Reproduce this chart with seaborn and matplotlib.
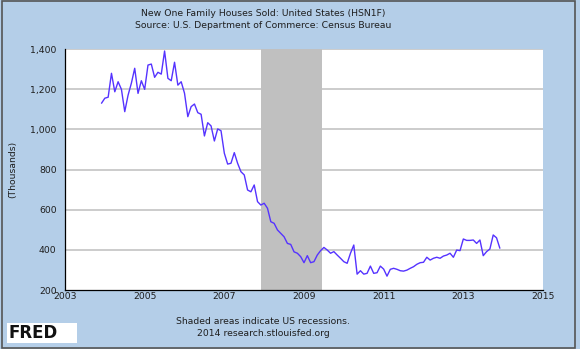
import numpy as np
import pandas as pd
import matplotlib
matplotlib.use("Agg")
import matplotlib.pyplot as plt
import seaborn as sns
from matplotlib.patches import Rectangle

# ---- data (thousands, monthly, Dec 2003 .. Dec 2013) ----
start_year, start_month = 2003, 12
sales = [
    1130, 1155, 1160, 1279, 1187, 1237, 1199, 1088, 1170, 1230, 1304, 1179,   # Dec03-Nov04
    1242, 1199, 1320, 1325, 1259, 1284, 1275, 1390, 1254, 1242, 1334, 1220,   # Dec04-Nov05
    1237, 1180, 1063, 1113, 1126, 1083, 1075, 967, 1033, 1017, 942, 1002,     # Dec05-Nov06
    993, 881, 827, 831, 884, 831, 789, 773, 698, 689, 723, 640,               # Dec06-Nov07
    623, 632, 607, 540, 532, 499, 482, 465, 432, 427, 390, 383,               # Dec07-Nov08
    366, 336, 371, 336, 341, 374, 396, 412, 399, 383, 391, 374,               # Dec08-Nov09
    358, 341, 333, 383, 424, 279, 296, 279, 283, 319, 283, 286,               # Dec09-Nov10
    319, 304, 269, 303, 308, 303, 296, 294, 299, 308, 316, 328,               # Dec10-Nov11
    336, 338, 363, 349, 358, 363, 358, 369, 374, 383, 363, 399,               # Dec11-Nov12
    396, 454, 447, 447, 449, 432, 449, 371, 391, 404, 474, 460,               # Dec12-Nov13
    408,                                                                      # Dec13
]
recession_start = 2007 + 11 / 12   # Dec 2007
recession_end = 2009 + 5.5 / 12    # Jun 2009

title_lines = ["New One Family Houses Sold: United States (HSN1F)",
               "Source: U.S. Department of Commerce: Census Bureau"]
y_label = "(Thousands)"
y_ticks = [200, 400, 600, 800, 1000, 1200, 1400]
x_ticks = [2003, 2005, 2007, 2009, 2011, 2013, 2015]
footer_lines = ["Shaded areas indicate US recessions.",
                "2014 research.stlouisfed.org"]

dates = pd.date_range(f"{start_year}-{start_month:02d}-01", periods=len(sales), freq="MS")
df = pd.DataFrame({
    "year": dates.year + (dates.month - 1) / 12.0,
    "sales": sales,
})

# ---- style ----
bg = "#B4CEE8"
fs = 6.7
txt = "#1e1e1e"
sns.set_style("white")
plt.rcParams["font.family"] = ["DejaVu Sans"]

fig = plt.figure(figsize=(5.8, 3.49), dpi=100, facecolor=bg)
ax = fig.add_axes([65 / 580, 1 - 290 / 349, (543 - 65) / 580, (290 - 49) / 349])
ax.set_facecolor("white")

ax.axvspan(recession_start, recession_end, color="#C0C0C0", lw=0, zorder=1)
for t in y_ticks[1:]:
    ax.axhline(t, color="#C8C8C8", lw=1.3, zorder=0.5)

sns.lineplot(data=df, x="year", y="sales", ax=ax, color="#5533FF", lw=1.0, zorder=3)

ax.set_xlim(2003, 2015)
ax.set_ylim(200, 1400)
ax.set_xticks(x_ticks)
ax.set_xticklabels([str(v) for v in x_ticks], fontsize=fs, color=txt)
ax.set_yticks(y_ticks)
ax.set_yticklabels([f"{v:,}" for v in y_ticks], fontsize=fs, color=txt)
ax.tick_params(axis="x", direction="in", length=4, width=0.8, pad=1.5, color="black")
ax.tick_params(axis="y", direction="out", length=4, width=0.8, pad=2, color="black")
ax.set_xlabel("")
ax.set_ylabel(y_label, fontsize=fs, color=txt)
ax.yaxis.set_label_coords(-0.1, 0.5)
for s in ["top", "right"]:
    ax.spines[s].set_visible(False)
for s in ["left", "bottom"]:
    ax.spines[s].set_color("black")
    ax.spines[s].set_linewidth(0.9)

# titles
fig.text(263 / 580, 1 - 13 / 349, title_lines[0], ha="center", va="center", fontsize=fs, color=txt)
fig.text(263 / 580, 1 - 25 / 349, title_lines[1], ha="center", va="center", fontsize=fs, color=txt)
# footer
fig.text(263 / 580, 1 - 322 / 349, footer_lines[0], ha="center", va="center", fontsize=fs, color=txt)
fig.text(263 / 580, 1 - 333 / 349, footer_lines[1], ha="center", va="center", fontsize=fs, color=txt)

# FRED logo
fig.patches.append(Rectangle((7 / 580, 1 - 343 / 349), 70 / 580, 20 / 349,
                             transform=fig.transFigure, facecolor="white", edgecolor="none"))
fig.text(9 / 580, 1 - 333 / 349, "FRED", ha="left", va="center", fontsize=12,
         fontweight="bold", color="#111111")
icon = fig.add_axes([61 / 580, 1 - 341 / 349, 15 / 580, 14 / 349])
icon.set_facecolor("#E8EEF4")
icon.plot([0, 1, 2, 3, 4], [0.5, 1.5, 1.0, 2.5, 3.2], color="#4a8fd0", lw=0.8)
icon.plot([0, 1, 2, 3, 4], [0.2, 0.8, 1.4, 1.8, 2.6], color="#6cbf3f", lw=0.8)
icon.set_xticks([]); icon.set_yticks([])
for s in icon.spines.values():
    s.set_visible(False)

# figure border
fig.patches.append(Rectangle((0.003, 0.004), 0.989, 0.992, transform=fig.transFigure,
                             facecolor="none", edgecolor="#555555", lw=1.2))

fig.savefig("out.png", dpi=100, facecolor=bg)
